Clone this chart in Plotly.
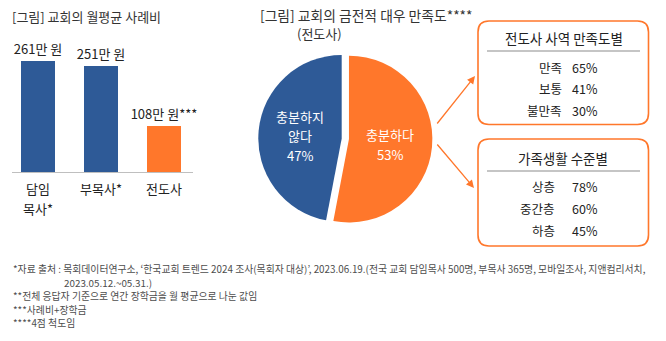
import math
import plotly.graph_objects as go

W, H = 666, 341
BLUE = "#2E5A97"
ORANGE = "#FF772B"
FONT = "Noto Sans CJK KR"

# Monthly average pay by role (unit: 10,000 won)
roles = ["담임 목사*", "부목사*", "전도사"]
pay = [261, 251, 108]
pay_suffix = ["", "", "***"]
bar_colors = [BLUE, BLUE, ORANGE]

# Financial satisfaction of 전도사 (percent)
pie_labels = ["충분하다", "충분하지 않다"]
pie_text_lines = [["충분하다"], ["충분하지", "않다"]]
pie_values = [53, 47]
pie_colors = [ORANGE, BLUE]
pie_pull = [0.0875, 0]

# Breakdown boxes
sat_title = "전도사 사역 만족도별"
sat_labels = ["만족", "보통", "불만족"]
sat_values = [65, 41, 30]
life_title = "가족생활 수준별"
life_labels = ["상층", "중간층", "하층"]
life_values = [78, 60, 45]

notes = [
    "*자료 출처 : 목회데이터연구소, ‘한국교회 트렌드 2024 조사(목회자 대상)’, 2023.06.19.(전국 교회 담임목사 500명, 부목사 365명, 모바일조사, 지앤컴리서치,",
    "2023.05.12.~05.31.)",
    "**전체 응답자 기준으로 연간 장학금을 월 평균으로 나눈 값임",
    "***사례비+장학금",
    "****4점 척도임",
]


def px(x):
    return x / W


def py(y):
    return 1 - y / H


fig = go.Figure()

fig.add_trace(go.Bar(
    x=roles, y=pay,
    marker=dict(color=bar_colors, line=dict(width=0)),
    width=0.545,
    text=[f"{v}만 원{s}" for v, s in zip(pay, pay_suffix)],
    textposition="outside",
    constraintext="none",
    textfont=dict(family=FONT, size=13, color="#222222"),
    cliponaxis=False,
    hoverinfo="skip",
))

# Pie box in pixels (left, top, right, bottom); radius shrinks to leave room for the pull
pie_box = (251.0, 47.7, 432.4, 229.1)
fig.add_trace(go.Pie(
    labels=pie_labels, values=pie_values,
    sort=False, direction="clockwise", rotation=0,
    marker=dict(colors=pie_colors, line=dict(width=0)),
    pull=pie_pull,
    textinfo="none",
    domain=dict(x=[px(pie_box[0]), px(pie_box[2])], y=[py(pie_box[3]), py(pie_box[1])]),
    hoverinfo="skip",
    showlegend=False,
))

fig.update_layout(
    width=W, height=H,
    margin=dict(l=0, r=0, t=0, b=0),
    paper_bgcolor="white", plot_bgcolor="white",
    showlegend=False,
    font=dict(family=FONT, color="#222222"),
    bargap=0,
    xaxis=dict(
        domain=[px(12), px(193)],
        range=[-0.41, 2.46],
        showline=True, linecolor="#BFBFBF", linewidth=1,
        showgrid=False, zeroline=False, ticks="",
        showticklabels=False,
        fixedrange=True,
    ),
    yaxis=dict(
        domain=[py(172), py(40)],
        range=[0, 132 / 0.424],
        visible=False, fixedrange=True,
    ),
)

ann = []


def text(x, y, s, size, color="#222222", anchor="left"):
    ann.append(dict(x=px(x), y=py(y), xref="paper", yref="paper", text=s,
                    showarrow=False, xanchor=anchor, yanchor="middle",
                    font=dict(family=FONT, size=size, color=color)))


# Category labels under the bars, one annotation per line
for role in roles:
    for k, line in enumerate(role.split(" ")):
        ann.append(dict(x=role, y=py(189 + k * 19), xref="x", yref="paper", text=line,
                        showarrow=False, xanchor="center", yanchor="middle",
                        font=dict(family=FONT, size=13, color="#222222")))

# Panel titles
text(10, 17, "[그림] 교회의 월평균 사례비", 13, "#333333")
text(258, 15, "[그림] 교회의 금전적 대우 만족도****", 13.8, "#333333")
text(295, 33, "(전도사)", 13, "#333333")

# Slice labels: placed halfway out along each slice's middle angle
cx = (pie_box[0] + pie_box[2]) / 2
cy = (pie_box[1] + pie_box[3]) / 2
r = min(pie_box[2] - pie_box[0], pie_box[3] - pie_box[1]) / 2 / (1 + max(pie_pull))
total = sum(pie_values)
start = 0.0
for lines, val, pl in zip(pie_text_lines, pie_values, pie_pull):
    mid = 2 * math.pi * (start + val / 2) / total
    start += val
    ux, uy = math.sin(mid), -math.cos(mid)
    d = r * (pl + 0.5)
    tx, ty = cx + ux * d, cy + uy * d
    rows = lines + [f"{val}%"]
    step = 19.5
    y0 = ty - step * (len(rows) - 1) / 2 + 1.5
    for k, s in enumerate(rows):
        text(tx, y0 + k * step, s, 13, "white", anchor="center")

# Rounded boxes with a divider and rows
shapes = []


def rounded_box(x0, y0, x1, y1, rad):
    X0, X1 = px(x0), px(x1)
    Y0, Y1 = py(y0), py(y1)
    rx, ry = rad / W, rad / H
    path = (f"M {X0 + rx},{Y0} L {X1 - rx},{Y0} Q {X1},{Y0} {X1},{Y0 - ry} "
            f"L {X1},{Y1 + ry} Q {X1},{Y1} {X1 - rx},{Y1} "
            f"L {X0 + rx},{Y1} Q {X0},{Y1} {X0},{Y1 + ry} "
            f"L {X0},{Y0 - ry} Q {X0},{Y0} {X0 + rx},{Y0} Z")
    shapes.append(dict(type="path", path=path, xref="paper", yref="paper",
                       line=dict(color=ORANGE, width=1.6), fillcolor="rgba(0,0,0,0)"))


def divider(y):
    shapes.append(dict(type="line", xref="paper", yref="paper",
                       x0=px(487), x1=px(640), y0=py(y), y1=py(y),
                       line=dict(color="#8C8C8C", width=1.2)))


rounded_box(478, 21, 648.5, 124.5, 11)
divider(51)
text(564, 38, sat_title, 13.5, anchor="center")
for i, (lab, val) in enumerate(zip(sat_labels, sat_values)):
    y = 67 + i * 21.7
    text(563.5, y, lab, 12.5, anchor="right")
    text(570, y, f"{val}%", 12.5)

rounded_box(478, 139, 648.5, 246, 11)
divider(171)
text(563, 158, life_title, 13.5, anchor="center")
for i, (lab, val) in enumerate(zip(life_labels, life_values)):
    y = 186.5 + i * 22.2
    text(557, y, lab, 12.5, anchor="right")
    text(570, y, f"{val}%", 12.5)

# Arrows from the pie to the boxes
for (tx, ty), (sx, sy) in [((475, 76), (436, 125)), ((474, 188), (436, 143))]:
    ann.append(dict(x=px(tx), y=py(ty), xref="paper", yref="paper",
                    ax=sx - tx, ay=sy - ty, axref="pixel", ayref="pixel",
                    showarrow=True, arrowhead=2, arrowsize=1.2, arrowwidth=1.3,
                    arrowcolor=ORANGE, text=""))

# Footnotes
note_pos = [(11, 269), (62, 282.5), (11, 296), (11, 310), (11, 323)]
for (x, y), s in zip(note_pos, notes):
    text(x, y, s, 9.85, "#4D4D4D")

fig.update_layout(annotations=ann, shapes=shapes)
fig.write_html("out.html")
